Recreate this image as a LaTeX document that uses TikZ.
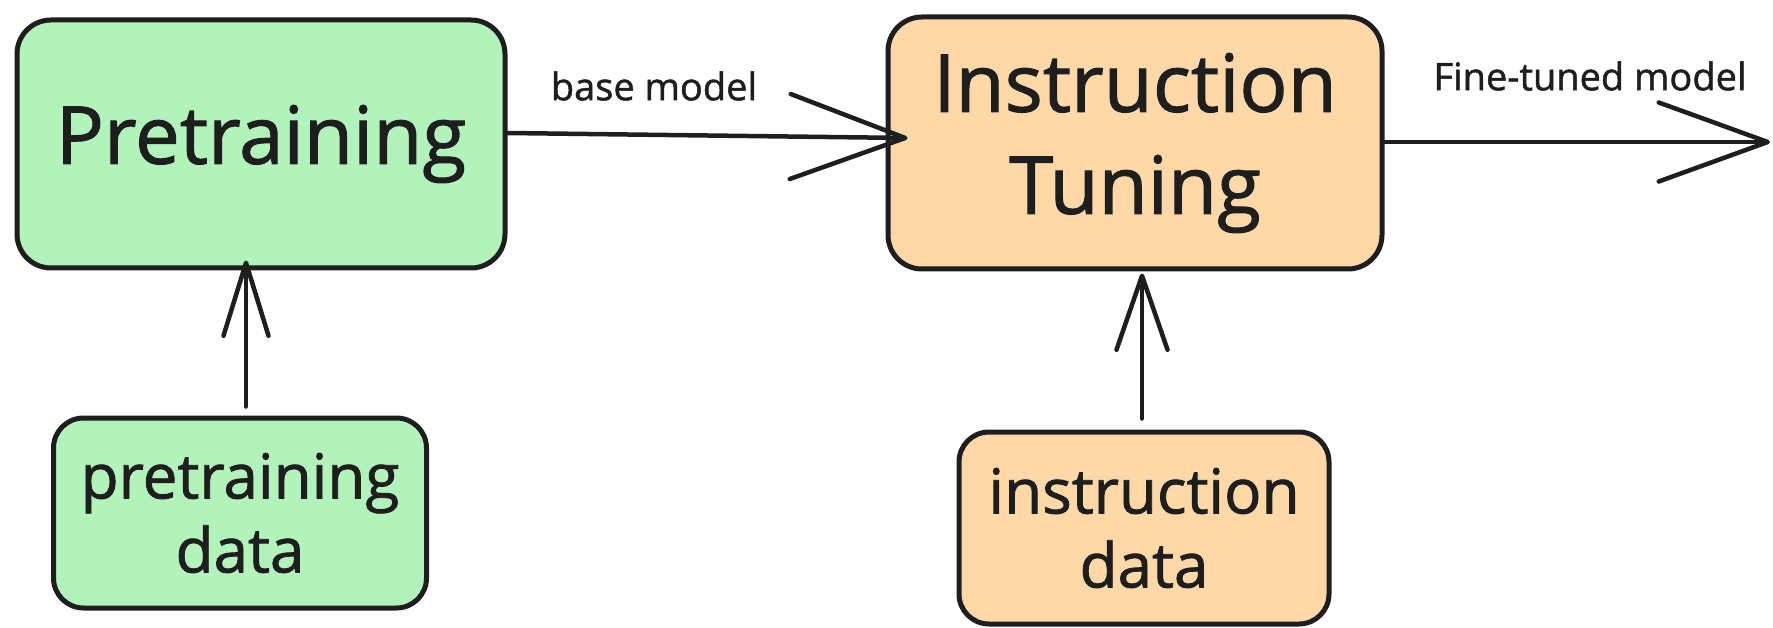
\documentclass[tikz,border=0pt]{standalone}
\usepackage{fontspec}
\setmainfont{Open Sans}[FakeBold=1.3]
\usetikzlibrary{arrows.meta}

\definecolor{ink}{HTML}{1E1E1E}
\definecolor{mint}{HTML}{B2F2BB}
\definecolor{peach}{HTML}{FFD8A8}

\tikzset{
  block/.style={draw=ink, line width=5pt, rounded corners=34pt,
    text=ink, align=center, inner sep=0pt},
  bigtext/.style={font=\fontsize{80}{102}\selectfont},
  smalltext/.style={font=\fontsize{62}{74}\selectfont},
  lbl/.style={text=ink, font=\fontsize{38}{46}\selectfont, inner sep=0pt},
  flow/.style={draw=ink, line width=4.5pt, line cap=round},
}

\begin{document}
\begin{tikzpicture}[x=1pt, y=-1pt]
  \useasboundingbox (0,0) rectangle (1773,628);

  % stages
  \node[block, bigtext, fill=mint, minimum width=488pt, minimum height=248pt]
    (pre) at (261,144) {Pretraining};
  \node[block, bigtext, fill=peach, minimum width=494pt, minimum height=252pt]
    (inst) at (1135,143) {Instruction\\Tuning};

  % data sources
  \node[block, smalltext, fill=mint, rounded corners=30pt,
        minimum width=373pt, minimum height=190pt]
    (pdata) at (240,513) {pretraining\\data};
  \node[block, smalltext, fill=peach, rounded corners=30pt,
        minimum width=370pt, minimum height=192pt]
    (idata) at (1144,528) {instruction\\data};

  % output end of the last arrow
  \coordinate (out) at (1770,142);

  % connectors
  \draw[flow, -{Straight Barb[length=115pt, width=85pt, round]}]
    ([yshift=11pt]pre.east) -- ([xshift=22pt, yshift=5pt]inst.west);
  \draw[flow, -{Straight Barb[length=109pt, width=79pt, round]}]
    ([yshift=1pt]inst.east) -- (out);
  \draw[flow, -{Straight Barb[length=73pt, width=45pt, round]}]
    ([xshift=6pt, yshift=9pt]pdata.north) -- ([xshift=-15pt, yshift=10pt]pre.south);
  \draw[flow, -{Straight Barb[length=74pt, width=51pt, round]}]
    ([xshift=-2pt, yshift=11pt]idata.north) -- ([xshift=7pt, yshift=-2pt]inst.south);

  % arrow labels
  \node[lbl] (lbase) at (654,86) {base model};
  \node[lbl] (lfine) at (1590,76) {Fine-tuned model};
\end{tikzpicture}
\end{document}
